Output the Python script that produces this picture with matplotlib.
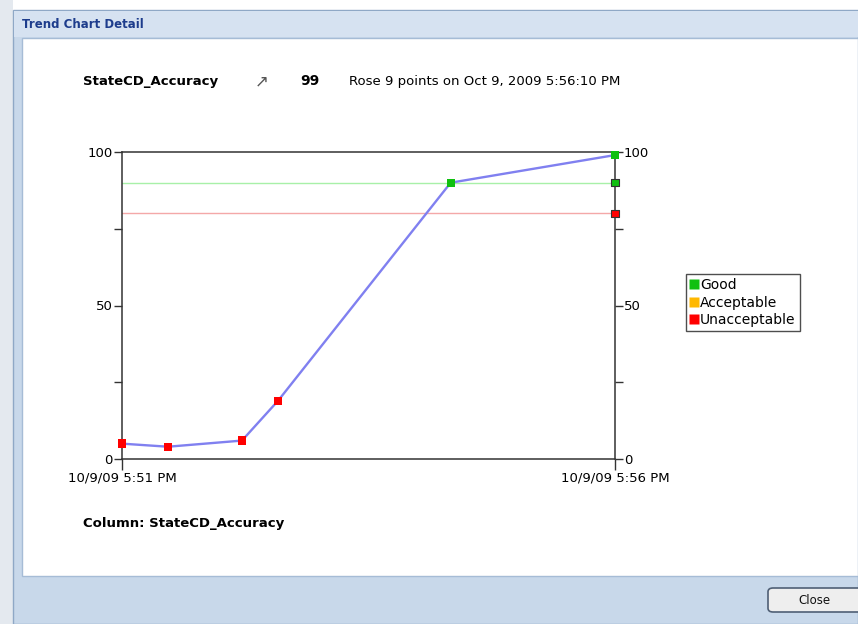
import datetime as dt
import matplotlib
matplotlib.use("Agg")
import matplotlib.pyplot as plt
import matplotlib.dates as mdates
from matplotlib.patches import Rectangle, FancyBboxPatch
from matplotlib.lines import Line2D

plt.rcParams['font.family'] = ['DejaVu Sans']

# data
times = [dt.datetime(2009, 10, 9, 17, 51, 10), dt.datetime(2009, 10, 9, 17, 51, 38),
         dt.datetime(2009, 10, 9, 17, 52, 23), dt.datetime(2009, 10, 9, 17, 52, 45),
         dt.datetime(2009, 10, 9, 17, 54, 30), dt.datetime(2009, 10, 9, 17, 56, 10)]
values = [5, 4, 6, 19, 90, 99]
good_limit = 90
unacceptable_limit = 80
y_ticks = [0, 25, 50, 75, 100]
y_labels = ['0', '', '50', '', '100']
legend_names = ['Good', 'Acceptable', 'Unacceptable']
legend_colors = ['#10c010', '#ffb800', '#ff0000']

W, H = 858, 624
fig = plt.figure(figsize=(W / 100, H / 100), dpi=100)
fig.patch.set_facecolor('white')


def px(x, y, w, h):
    # pixel box (top-left origin) -> figure fraction
    return (x / W, 1 - (y + h) / H, w / W, h / H)


def frect(x, y, w, h, **kw):
    l, b, ww, hh = px(x, y, w, h)
    fig.patches.append(Rectangle((l, b), ww, hh, transform=fig.transFigure, zorder=-10, **kw))


# window chrome
frect(0, 0, 13, H, facecolor='#e4e9ef', edgecolor='none')
frect(13, 10, W - 13, H - 10, facecolor='#c8d8ea', edgecolor='#8fa8c6', linewidth=1)
frect(14, 11, W - 14, 26, facecolor='#d6e2f1', edgecolor='none')
frect(22, 38, W - 22, 538, facecolor='white', edgecolor='#a6bcd6', linewidth=1)
fig.text(22 / W, 1 - 24 / H, 'Trend Chart Detail', fontsize=8.5, fontweight='bold',
         color='#1d3c8c', va='center', ha='left')

l, b, w, h = px(768, 588, 100, 24)
fig.patches.append(FancyBboxPatch((l, b), w, h, boxstyle='round,pad=0,rounding_size=0.006',
                                  transform=fig.transFigure, facecolor='#eeeeee',
                                  edgecolor='#4f5f75', linewidth=1.2, zorder=-5))
fig.text(814 / W, 1 - 600 / H, 'Close', fontsize=8.5, color='#111111', ha='center', va='center')

# header texts
fig.text(83 / W, 1 - 81 / H, 'StateCD_Accuracy', fontsize=9.5, fontweight='bold',
         ha='left', va='center')
fig.text(262 / W, 1 - 81 / H, '\u2197', fontsize=12, color='#555555', ha='center', va='center')
fig.text(300 / W, 1 - 81 / H, '99', fontsize=10, fontweight='bold', ha='left', va='center')
fig.text(349 / W, 1 - 81 / H, 'Rose 9 points on Oct 9, 2009 5:56:10 PM', fontsize=9.5,
         ha='left', va='center')
fig.text(83 / W, 1 - 523 / H, 'Column: StateCD_Accuracy', fontsize=9.5, fontweight='bold',
         ha='left', va='center')

# chart
ax = fig.add_axes(px(122, 152, 493, 307))
ax.set_zorder(5)
ax.set_facecolor('white')
ax.set_xlim(times[0], times[-1])
ax.set_ylim(0, 100)

ax.axhline(good_limit, color='#a8f0a8', linewidth=1, zorder=1)
ax.axhline(unacceptable_limit, color='#f4a8a8', linewidth=1, zorder=1)

ax.plot(times, values, color='#8080f0', linewidth=1.7, zorder=2)
colors = [legend_colors[0] if v >= good_limit else
          (legend_colors[1] if v >= unacceptable_limit else legend_colors[2]) for v in values]
ax.scatter(times, values, marker='s', s=36, c=colors, edgecolors='none', zorder=3, clip_on=False)

# limit markers on the right edge
ax.scatter([times[-1], times[-1]], [good_limit, unacceptable_limit], marker='s', s=26,
           c=[legend_colors[0], legend_colors[2]], edgecolors='#333333', linewidths=0.8,
           zorder=4, clip_on=False)

for s in ax.spines.values():
    s.set_color('#333333')
    s.set_linewidth(1.1)

ax.set_yticks(y_ticks)
ax.set_yticklabels(y_labels)
ax.tick_params(axis='y', direction='out', length=6, width=1, color='#333333',
               labelsize=9.5, pad=0.5, right=True, labelright=True)
ax.set_xticks([times[0], times[-1]])
ax.xaxis.set_major_formatter(mdates.DateFormatter('%-m/%-d/%y %-I:%M %p'))
ax.tick_params(axis='x', direction='out', length=8, width=1, color='#333333',
               labelsize=9.5, pad=1)

handles = [Line2D([], [], marker='s', linestyle='none', markersize=7.5,
                  markerfacecolor=c, markeredgecolor='none') for c in legend_colors]
leg = fig.legend(handles, legend_names, loc='upper left',
                 bbox_to_anchor=(686 / W, 1 - 274 / H), fontsize=10, frameon=True,
                 fancybox=False, handlelength=0.6, handletextpad=0.1, borderpad=0.3,
                 labelspacing=0.25, borderaxespad=0)
leg.get_frame().set_edgecolor('#222222')
leg.get_frame().set_linewidth(1)
leg.set_zorder(6)

fig.savefig('out.png', dpi=100)
